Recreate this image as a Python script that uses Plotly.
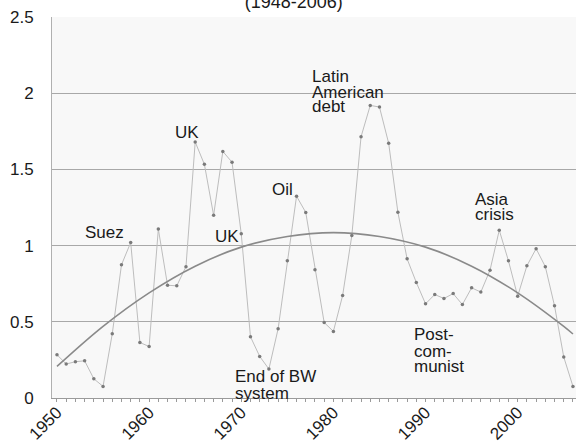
import plotly.graph_objects as go

years = list(range(1950, 2007))
values = [0.284, 0.223, 0.238, 0.244, 0.126, 0.076, 0.421, 0.874, 1.020, 0.364,
          0.338, 1.109, 0.740, 0.736, 0.862, 1.680, 1.533, 1.199, 1.618, 1.547,
          1.077, 0.402, 0.273, 0.190, 0.454, 0.900, 1.324, 1.218, 0.841, 0.495,
          0.437, 0.672, 1.066, 1.714, 1.920, 1.909, 1.671, 1.219, 0.913, 0.758,
          0.618, 0.679, 0.653, 0.685, 0.613, 0.723, 0.695, 0.839, 1.101, 0.900,
          0.668, 0.867, 0.980, 0.862, 0.605, 0.269, 0.076]

trend_years = [1950, 1955, 1960, 1965, 1970, 1975, 1980, 1985, 1990, 1995, 2000, 2005, 2006]
trend_values = [0.207, 0.47, 0.69, 0.865, 0.99, 1.06, 1.085, 1.06, 0.99, 0.865, 0.69, 0.47, 0.42]

y_ticks = [0, 0.5, 1, 1.5, 2, 2.5]
y_tick_labels = ["0", "0.5", "1", "1.5", "2", "2.5"]
x_ticks = [1950, 1960, 1970, 1980, 1990, 2000]

labels = [
    ("Suez", 1955.18, 1.088, "center"),
    ("UK", 1964.15, 1.740, "center"),
    ("UK", 1968.49, 1.059, "center"),
    ("Oil", 1974.46, 1.370, "center"),
    ("Latin", 1977.43, 2.112, "left"),
    ("American", 1977.43, 2.003, "left"),
    ("debt", 1977.43, 1.911, "left"),
    ("End of BW", 1969.10, 0.1415, "left"),
    ("system", 1969.10, 0.028, "left"),
    ("Post-", 1988.53, 0.415, "left"),
    ("com-", 1988.53, 0.305, "left"),
    ("munist", 1988.53, 0.207, "left"),
    ("Asia", 1995.15, 1.304, "left"),
    ("crisis", 1995.15, 1.206, "left"),
]

FONT = "Liberation Sans, Arial, sans-serif"

fig = go.Figure()
fig.add_trace(go.Scatter(
    x=years, y=values, mode="lines+markers",
    line=dict(color="#bdbdbd", width=1),
    marker=dict(color="#7a7a7a", size=3.5),
    showlegend=False, hoverinfo="skip"))
fig.add_trace(go.Scatter(
    x=trend_years, y=trend_values, mode="lines",
    line=dict(color="#8a8a8a", width=1.6, shape="spline"),
    showlegend=False, hoverinfo="skip"))

for text, x, y, align in labels:
    fig.add_annotation(x=x, y=y, text=text, showarrow=False,
                       xanchor=align, yanchor="middle",
                       font=dict(family=FONT, size=17, color="#1a1a1a"))

fig.update_layout(
    width=576, height=442,
    margin=dict(l=52, r=0, t=17, b=44),
    paper_bgcolor="white",
    plot_bgcolor="#f8f8f8",
    font=dict(family=FONT, size=17, color="#1a1a1a"),
    title=dict(text="(1948-2006)", x=0.51, xanchor="center",
               y=0.997, yanchor="middle", yref="container",
               font=dict(family=FONT, size=18, color="#1a1a1a")),
)
fig.update_xaxes(
    range=[1949.46, 2006.33],
    tickvals=x_ticks, tickangle=-45,
    showgrid=False, zeroline=False, automargin=False,
    showline=True, linecolor="#9a9a9a", linewidth=1,
    ticks="outside", ticklen=3, tickcolor="#9a9a9a",
    minor=dict(dtick=1, ticks="outside", ticklen=3, tickcolor="#9a9a9a"),
    ticklabelstandoff=-6,
    tickfont=dict(family=FONT, size=17, color="#1a1a1a"),
)
fig.update_yaxes(
    range=[0, 2.5],
    tickvals=y_ticks, ticktext=y_tick_labels,
    showgrid=True, gridcolor="#a8a8a8", gridwidth=1,
    zeroline=False, automargin=False,
    showline=True, linecolor="#b0b0b0", linewidth=1,
    ticks="", ticklabelstandoff=14,
    tickfont=dict(family=FONT, size=17, color="#1a1a1a"),
)

fig.write_html("out.html", config={"displayModeBar": False},
               post_script="document.body.style.margin='0';")
